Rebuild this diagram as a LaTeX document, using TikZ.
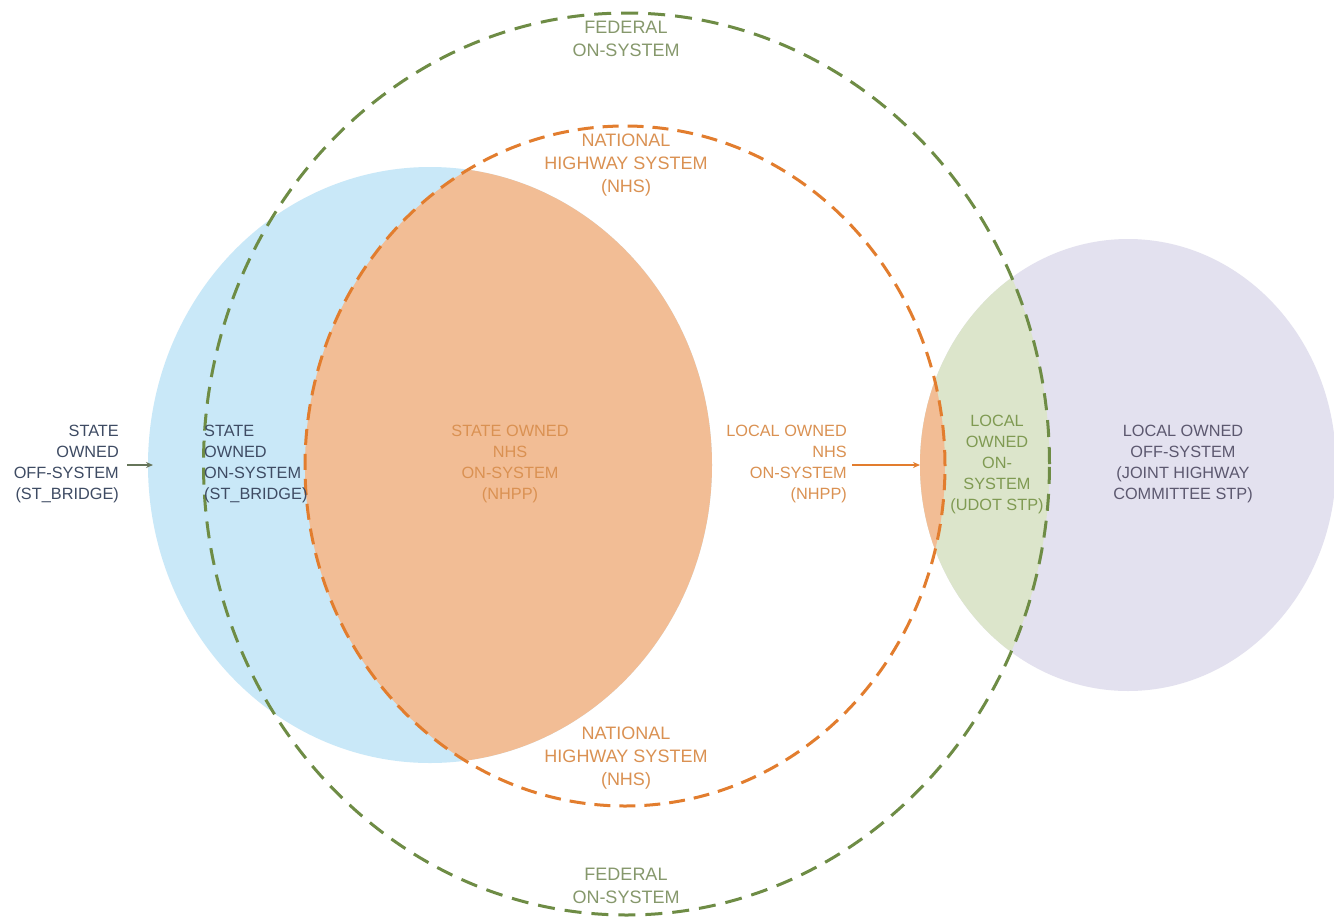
\documentclass[tikz,border=0pt]{standalone}
\usepackage{fontspec}
\setmainfont{Liberation Sans}
\usetikzlibrary{arrows.meta}
\definecolor{blueFill}{HTML}{C9E8F8}
\definecolor{orangeFill}{HTML}{F2BD95}
\definecolor{lavFill}{HTML}{E3E1EF}
\definecolor{greenFill}{HTML}{DCE5CB}
\definecolor{greenDash}{HTML}{6E8C45}
\definecolor{orangeDash}{HTML}{E27D2E}
\definecolor{fedText}{HTML}{86986C}
\definecolor{nhsText}{HTML}{DA9152}
\definecolor{stateText}{HTML}{3E4B63}
\definecolor{lavText}{HTML}{5C586F}
\definecolor{localOnText}{HTML}{7F9A52}
\definecolor{arrGray}{HTML}{66755A}
\begin{document}
\begin{tikzpicture}[x=1pt,y=-1pt,
  dashG/.style={draw=greenDash, line width=3pt, dash pattern=on 17pt off 10pt},
  dashO/.style={draw=orangeDash, line width=3pt, dash pattern=on 16pt off 9pt},
  lbl/.style={inner sep=0pt, font=\fontsize{16.3}{21}\selectfont},
  biglbl/.style={inner sep=0pt, align=center, font=\fontsize{18}{23}\selectfont},
  arr/.style={line width=1.3pt, -{Stealth[length=7pt,width=6pt]}}]
\useasboundingbox[fill=white] (0,0) rectangle (1334,919);
% filled circles
\fill[blueFill] (430,465) ellipse [x radius=282pt, y radius=298pt];
\fill[lavFill] (1128,465) ellipse [x radius=208pt, y radius=226pt];
% lens: blue with NHS
\begin{scope}
  \clip (430,465) ellipse [x radius=282pt, y radius=298pt];
  \fill[orangeFill] (625,466) ellipse [x radius=320pt, y radius=340pt];
\end{scope}
% lens: lavender with federal
\begin{scope}
  \clip (1128,465) ellipse [x radius=208pt, y radius=226pt];
  \fill[greenFill] (626.5,464) ellipse [x radius=423pt, y radius=451pt];
  \fill[orangeFill] (625,466) ellipse [x radius=320pt, y radius=340pt];
\end{scope}
% dashed circles
\draw[dashO] (625,466) ellipse [x radius=320pt, y radius=340pt];
\draw[dashG] (626.5,464) ellipse [x radius=423pt, y radius=451pt];
% labels
\node[biglbl, text=fedText] (fedTop) at (626,39) {FEDERAL\\ON-SYSTEM};
\node[biglbl, text=nhsText] (nhsTop) at (626,165) {NATIONAL\\HIGHWAY SYSTEM\\(NHS)};
\node[biglbl, text=nhsText] (nhsBot) at (626,758) {NATIONAL\\HIGHWAY SYSTEM\\(NHS)};
\node[biglbl, text=fedText] (fedBot) at (626,886) {FEDERAL\\ON-SYSTEM};
\node[lbl, align=right, text=stateText, anchor=east] (stOff) at (119,464) {STATE\\OWNED\\OFF-SYSTEM\\(ST\_BRIDGE)};
\node[lbl, align=left, text=stateText, anchor=west] (stOn) at (204,464) {STATE\\OWNED\\ON-SYSTEM\\(ST\_BRIDGE)};
\node[lbl, align=center, text=nhsText] (stNhs) at (510,464) {STATE OWNED\\NHS\\ON-SYSTEM\\(NHPP)};
\node[lbl, align=right, text=nhsText, anchor=east] (locNhs) at (847,464) {LOCAL OWNED\\NHS\\ON-SYSTEM\\(NHPP)};
\node[lbl, align=center, text=localOnText] (locOn) at (997,464) {LOCAL\\OWNED\\ON-\\SYSTEM\\(UDOT STP)};
\node[lbl, align=center, text=lavText] (locOff) at (1183,464) {LOCAL OWNED\\OFF-SYSTEM\\(JOINT HIGHWAY\\COMMITTEE STP)};
% arrows
\coordinate (arrL) at (153,465);
\coordinate (arrR) at (920,465);
\draw[arr, draw=arrGray] ([xshift=8pt]stOff.east |- arrL) -- (arrL);
\draw[arr, draw=orangeDash] ([xshift=5pt]locNhs.east |- arrR) -- (arrR);
\end{tikzpicture}
\end{document}
